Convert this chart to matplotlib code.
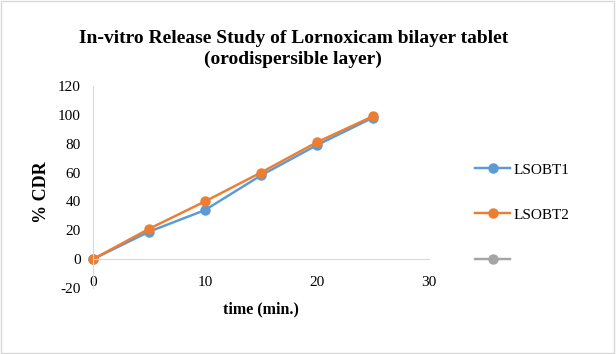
import numpy as np
import matplotlib.pyplot as plt
from matplotlib.patches import Rectangle

time_min = [0, 5, 10, 15, 20, 25]
lsobt1 = [0, 19, 34, 58, 79, 98]
lsobt2 = [0, 21, 40, 60, 81, 99]

plt.rcParams['font.family'] = ['Liberation Serif', 'DejaVu Serif']
plt.rcParams['axes.unicode_minus'] = False

fig = plt.figure(figsize=(6.16, 3.54), dpi=100)
ax = fig.add_axes([0.151, 0.1864, 0.545, 0.5706])

ax.plot(time_min, lsobt1, color='#5b9bd5', lw=1.75, marker='o', ms=6.5, label='LSOBT1', clip_on=False)
ax.plot(time_min, lsobt2, color='#ed7d31', lw=1.75, marker='o', ms=6.5, label='LSOBT2', clip_on=False)
ax.plot([], [], color='#a5a5a5', lw=1.75, marker='o', ms=6.5, label=' ')

ax.set_xlim(0, 30)
ax.set_ylim(-20, 120)
ax.set_xticks(np.arange(0, 31, 10))
ax.set_yticks(np.arange(-20, 121, 20))
ax.spines['top'].set_visible(False)
ax.spines['right'].set_visible(False)
ax.spines['bottom'].set_position(('data', 0))
for s in ('left', 'bottom'):
    ax.spines[s].set_color('#d9d9d9')
ax.tick_params(length=0, labelsize=11)
ax.tick_params(axis='y', pad=9)
ax.tick_params(axis='x', pad=12)

ax.set_xlabel('time (min.)', fontsize=11.5, fontweight='bold', va='center')
ax.xaxis.set_label_coords(0.5, -0.104)
ax.set_ylabel('% CDR', fontsize=13, fontweight='bold', va='center')
ax.yaxis.set_label_coords(-0.153, 0.473)

fig.suptitle('In-vitro Release Study of Lornoxicam bilayer tablet\n(orodispersible layer)',
             x=0.476, y=0.915, fontsize=14, fontweight='bold', linespacing=1.3)

ax.legend(loc='center left', bbox_to_anchor=(0.771, 0.393), bbox_transform=fig.transFigure,
          frameon=False, borderpad=0, borderaxespad=0, fontsize=11,
          labelspacing=2.06, handlelength=2.3, handletextpad=0.2)

fig.patches.append(Rectangle((0.002, 0.003), 0.995, 0.994, transform=fig.transFigure,
                             fill=False, edgecolor='#d9d9d9', lw=1))
fig.savefig('out.png', dpi=100)
